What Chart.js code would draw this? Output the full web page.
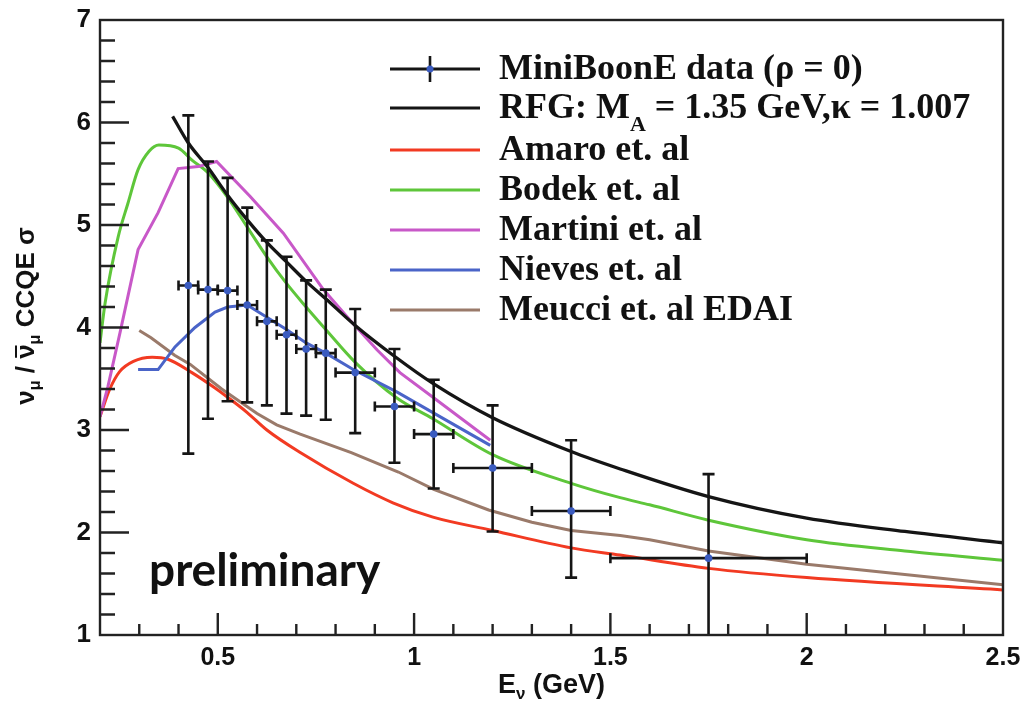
<!DOCTYPE html>
<html>
<head>
<meta charset="utf-8">
<script src="https://cdn.jsdelivr.net/npm/chart.js@4.4.1/dist/chart.umd.min.js"></script>
<style>
  html, body { margin: 0; padding: 0; background: #fff; }
  #wrap { width: 1025px; height: 710px; }
</style>
</head>
<body>
<div id="wrap"><canvas id="ratioChart" width="1025" height="710"></canvas></div>
<script>
// axis ticks
const xTicks = [0.5, 1, 1.5, 2, 2.5];
const yTicks = [1, 2, 3, 4, 5, 6, 7];

// MiniBooNE nu/nubar CCQE ratio, bin centres, bin edges and error limits
const dataE  = [0.425, 0.475, 0.525, 0.575, 0.625, 0.675, 0.725, 0.775, 0.85, 0.95, 1.05, 1.2, 1.4, 1.75];
const binLo  = [0.4, 0.45, 0.5, 0.55, 0.6, 0.65, 0.7, 0.75, 0.8, 0.9, 1.0, 1.1, 1.3, 1.5];
const binHi  = [0.45, 0.5, 0.55, 0.6, 0.65, 0.7, 0.75, 0.8, 0.9, 1.0, 1.1, 1.3, 1.5, 2.0];
const dataY  = [4.41, 4.37, 4.36, 4.22, 4.06, 3.93, 3.79, 3.75, 3.56, 3.23, 2.96, 2.63, 2.21, 1.75];
const dataHi = [6.07, 5.62, 5.46, 5.17, 4.85, 4.69, 4.46, 4.37, 4.18, 3.79, 3.49, 3.24, 2.90, 2.57];
const dataLo = [2.77, 3.11, 3.28, 3.27, 3.24, 3.16, 3.14, 3.10, 2.97, 2.68, 2.43, 2.01, 1.56, 0.93];

// model curves
const rfgE = [0.385, 0.425, 0.475, 0.525, 0.575, 0.625, 0.675, 0.725, 0.775, 0.85, 0.95, 1.05, 1.2, 1.4, 1.525, 1.75, 2.0, 2.25, 2.5];
const rfgV = [6.06, 5.80, 5.56, 5.29, 5.05, 4.83, 4.64, 4.45, 4.28, 4.02, 3.72, 3.45, 3.12, 2.79, 2.62, 2.35, 2.14, 2.01, 1.90];

const amaroE = [0.2, 0.225, 0.25, 0.285, 0.333, 0.373, 0.434, 0.493, 0.525, 0.575, 0.625, 0.71, 0.845, 0.946, 1.048, 1.2, 1.4, 1.525, 1.75, 2.0, 2.5];
const amaroV = [3.13, 3.40, 3.57, 3.67, 3.71, 3.69, 3.56, 3.41, 3.32, 3.17, 3.00, 2.78, 2.48, 2.29, 2.15, 2.02, 1.85, 1.78, 1.65, 1.56, 1.44];

const bodekE = [0.2, 0.213, 0.246, 0.271, 0.297, 0.325, 0.35, 0.4, 0.435, 0.475, 0.525, 0.575, 0.625, 0.675, 0.725, 0.775, 0.85, 0.957, 1.048, 1.2, 1.4, 1.525, 1.6, 1.75, 2.0, 2.25, 2.5];
const bodekV = [3.85, 4.24, 4.88, 5.21, 5.54, 5.72, 5.78, 5.75, 5.63, 5.51, 5.27, 4.98, 4.69, 4.43, 4.20, 3.98, 3.66, 3.31, 3.11, 2.76, 2.48, 2.34, 2.27, 2.12, 1.93, 1.82, 1.73];

const martiniE = [0.2, 0.22, 0.251, 0.297, 0.348, 0.399, 0.45, 0.497, 0.582, 0.667, 0.769, 0.837, 0.906, 0.964, 1.048, 1.194];
const martiniV = [3.13, 3.42, 3.95, 4.76, 5.12, 5.55, 5.57, 5.62, 5.28, 4.92, 4.37, 4.07, 3.78, 3.56, 3.32, 2.90];

const nievesE = [0.297, 0.348, 0.391, 0.442, 0.493, 0.525, 0.575, 0.625, 0.675, 0.725, 0.775, 0.845, 0.957, 1.048, 1.194];
const nievesV = [3.59, 3.59, 3.81, 4.00, 4.15, 4.20, 4.22, 4.10, 3.98, 3.85, 3.75, 3.59, 3.37, 3.17, 2.85];

const meucciE = [0.3, 0.33, 0.39, 0.43, 0.51, 0.6, 0.65, 0.71, 0.84, 0.96, 1.05, 1.19, 1.3, 1.4, 1.525, 1.6, 1.75, 2.0, 2.5];
const meucciV = [3.97, 3.90, 3.73, 3.64, 3.40, 3.16, 3.05, 2.96, 2.78, 2.59, 2.42, 2.22, 2.10, 2.02, 1.97, 1.93, 1.82, 1.69, 1.49];

const BLACK = '#151515', RED = '#f23a22', GREEN = '#5ec63a', MAGENTA = '#c858c8', BLUE = '#4a64c8', BROWN = '#9a7a6a';
const MARKER = '#3a5bc0';

const toPoints = (xs, ys) => xs.map((x, i) => ({ x: x, y: ys[i] }));

function curve(label, xs, ys, color, width, smooth, order) {
  return {
    label: label,
    data: toPoints(xs, ys),
    borderColor: color,
    backgroundColor: color,
    borderWidth: width,
    pointRadius: 0,
    fill: false,
    tension: 0,
    cubicInterpolationMode: smooth ? 'monotone' : 'default',
    order: order
  };
}

// legend rows: text pieces, ['A', true] means subscript
const legendRows = [
  { color: BLACK, marker: true, parts: [['MiniBoonE data (ρ = 0)']] },
  { color: BLACK, parts: [['RFG: M'], ['A', true], [' = 1.35 GeV,κ = 1.007']] },
  { color: RED, parts: [['Amaro et. al']] },
  { color: GREEN, parts: [['Bodek et. al']] },
  { color: MAGENTA, parts: [['Martini et. al']] },
  { color: BLUE, parts: [['Nieves et. al']] },
  { color: BROWN, parts: [['Meucci et. al EDAI']] }
];

function drawParts(ctx, parts, x, y, size, family, weight, subShift) {
  parts.forEach(p => {
    const sub = p[1] === true;
    ctx.font = weight + ' ' + (sub ? Math.round(size * 0.62) : size) + 'px ' + family;
    ctx.fillText(p[0], x, sub ? y + subShift : y);
    x += ctx.measureText(p[0]).width;
  });
  return x;
}

function partsWidth(ctx, parts, size, family, weight) {
  let w = 0;
  parts.forEach(p => {
    const sub = p[1] === true;
    ctx.font = weight + ' ' + (sub ? Math.round(size * 0.62) : size) + 'px ' + family;
    w += ctx.measureText(p[0]).width;
  });
  return w;
}

const errorBars = {
  id: 'errorBars',
  beforeDatasetDraw(chart, args) {
    if (args.index !== 0) return;
    const { ctx, chartArea: a, scales: { x, y } } = chart;
    ctx.save();
    ctx.beginPath();
    ctx.rect(a.left, a.top, a.right - a.left, a.bottom - a.top);
    ctx.clip();
    ctx.strokeStyle = BLACK;
    ctx.lineWidth = 2.6;
    dataE.forEach((e, i) => {
      const px = x.getPixelForValue(e), py = y.getPixelForValue(dataY[i]);
      const top = y.getPixelForValue(dataHi[i]), bot = y.getPixelForValue(dataLo[i]);
      const l = x.getPixelForValue(binLo[i]), r = x.getPixelForValue(binHi[i]);
      ctx.beginPath();
      ctx.moveTo(px, top); ctx.lineTo(px, bot);
      ctx.moveTo(l, py); ctx.lineTo(r, py);
      ctx.moveTo(px - 6, top); ctx.lineTo(px + 6, top);
      ctx.moveTo(px - 6, bot); ctx.lineTo(px + 6, bot);
      ctx.moveTo(l, py - 5); ctx.lineTo(l, py + 5);
      ctx.moveTo(r, py - 5); ctx.lineTo(r, py + 5);
      ctx.stroke();
    });
    ctx.restore();
  }
};

const frameAndText = {
  id: 'frameAndText',
  afterDraw(chart) {
    const { ctx, chartArea: a, scales: { x, y } } = chart;
    ctx.save();

    // frame
    ctx.strokeStyle = '#222';
    ctx.lineWidth = 2.4;
    ctx.strokeRect(a.left, a.top, a.right - a.left, a.bottom - a.top);

    // inward ticks, majors long and minors short
    ctx.beginPath();
    for (let k = 3; k <= 24; k++) {
      const px = x.getPixelForValue(k / 10);
      const len = k % 5 === 0 ? 22 : 11;
      ctx.moveTo(px, a.bottom); ctx.lineTo(px, a.bottom - len);
    }
    for (let k = 6; k <= 34; k++) {
      const py = y.getPixelForValue(k / 5);
      const len = k % 5 === 0 ? 29 : 15;
      ctx.moveTo(a.left, py); ctx.lineTo(a.left + len, py);
    }
    ctx.stroke();

    // legend
    const rowY = [69, 108, 150, 190, 230, 270, 310];
    legendRows.forEach((row, i) => {
      const ly = rowY[i];
      ctx.strokeStyle = row.color;
      ctx.lineWidth = row.color === BLACK ? 3.2 : 3;
      ctx.beginPath();
      ctx.moveTo(390, ly); ctx.lineTo(480, ly);
      ctx.stroke();
      if (row.marker) {
        ctx.strokeStyle = BLACK;
        ctx.lineWidth = 2.6;
        ctx.beginPath();
        ctx.moveTo(430, ly - 13); ctx.lineTo(430, ly + 13);
        ctx.stroke();
        ctx.fillStyle = MARKER;
        ctx.beginPath();
        ctx.arc(430, ly, 3.5, 0, Math.PI * 2);
        ctx.fill();
      }
      ctx.fillStyle = '#111';
      ctx.textBaseline = 'alphabetic';
      ctx.textAlign = 'left';
      drawParts(ctx, row.parts, 499, ly + 10, 36, '"Liberation Serif"', 'bold', 13);
    });

    // x title: E_nu (GeV)
    const xParts = [['E'], ['ν', true], [' (GeV)']];
    const xw = partsWidth(ctx, xParts, 27, '"Liberation Sans"', 'bold');
    ctx.fillStyle = '#111';
    drawParts(ctx, xParts, (a.left + a.right) / 2 - xw / 2, 693, 27, '"Liberation Sans"', 'bold', 6);

    // y title: nu_mu / nubar_mu CCQE sigma, rotated
    const yParts = [['ν'], ['μ', true], [' / '], ['ν'], ['μ', true], [' CCQE σ']];
    const yw = partsWidth(ctx, yParts, 26, '"Liberation Sans"', 'bold');
    ctx.save();
    ctx.translate(34, 316);
    ctx.rotate(-Math.PI / 2);
    let cx = -yw / 2;
    cx = drawParts(ctx, yParts.slice(0, 3), cx, 0, 26, '"Liberation Sans"', 'bold', 6);
    ctx.font = 'bold 26px "Liberation Sans"';
    const nuW = ctx.measureText('ν').width;
    ctx.lineWidth = 2;
    ctx.strokeStyle = '#111';
    ctx.beginPath();
    ctx.moveTo(cx + 1, -18); ctx.lineTo(cx + nuW - 1, -18);
    ctx.stroke();
    drawParts(ctx, yParts.slice(3), cx, 0, 26, '"Liberation Sans"', 'bold', 6);
    ctx.restore();

    // watermark
    ctx.font = 'bold 46px Lato';
    ctx.fillStyle = '#111';
    ctx.fillText('preliminary', 149, 586);

    ctx.restore();
  }
};

const ctx = document.getElementById('ratioChart').getContext('2d');
const ratioChart = new Chart(ctx, {
  type: 'line',
  data: {
    datasets: [
      {
        label: legendRows[0].parts[0][0],
        data: toPoints(dataE, dataY),
        showLine: false,
        pointRadius: 3.8,
        pointBackgroundColor: MARKER,
        pointBorderColor: MARKER,
        pointBorderWidth: 0,
        order: 0
      },
      curve('RFG', rfgE, rfgV, BLACK, 3.3, true, 1),
      curve('Amaro et. al', amaroE, amaroV, RED, 3, true, 6),
      curve('Bodek et. al', bodekE, bodekV, GREEN, 3, true, 5),
      curve('Martini et. al', martiniE, martiniV, MAGENTA, 3, false, 3),
      curve('Nieves et. al', nievesE, nievesV, BLUE, 3, false, 2),
      curve('Meucci et. al EDAI', meucciE, meucciV, BROWN, 3, false, 4)
    ]
  },
  options: {
    responsive: false,
    animation: false,
    devicePixelRatio: 1,
    layout: { padding: { top: 20, right: 22, left: 0, bottom: 0 } },
    plugins: { legend: { display: false }, tooltip: { enabled: false } },
    scales: {
      x: {
        type: 'linear',
        min: 0.2,
        max: 2.5,
        afterBuildTicks: s => { s.ticks = xTicks.map(v => ({ value: v })); },
        afterFit: s => { s.height = 75; s.paddingLeft = 0; s.paddingRight = 0; },
        grid: { display: false, drawTicks: false },
        border: { display: false },
        ticks: {
          padding: 8,
          maxRotation: 0,
          color: '#111',
          font: { family: '"Liberation Sans"', size: 25, weight: 'bold' },
          callback: v => String(v)
        }
      },
      y: {
        type: 'linear',
        min: 1,
        max: 7,
        afterBuildTicks: s => { s.ticks = yTicks.map(v => ({ value: v })); },
        afterFit: s => { s.width = 100; s.paddingTop = 0; s.paddingBottom = 0; },
        grid: { display: false, drawTicks: false },
        border: { display: false },
        ticks: {
          padding: 9,
          color: '#111',
          font: { family: '"Liberation Sans"', size: 26, weight: 'bold' },
          callback: v => String(v)
        }
      }
    }
  },
  plugins: [errorBars, frameAndText]
});
</script>
</body>
</html>
